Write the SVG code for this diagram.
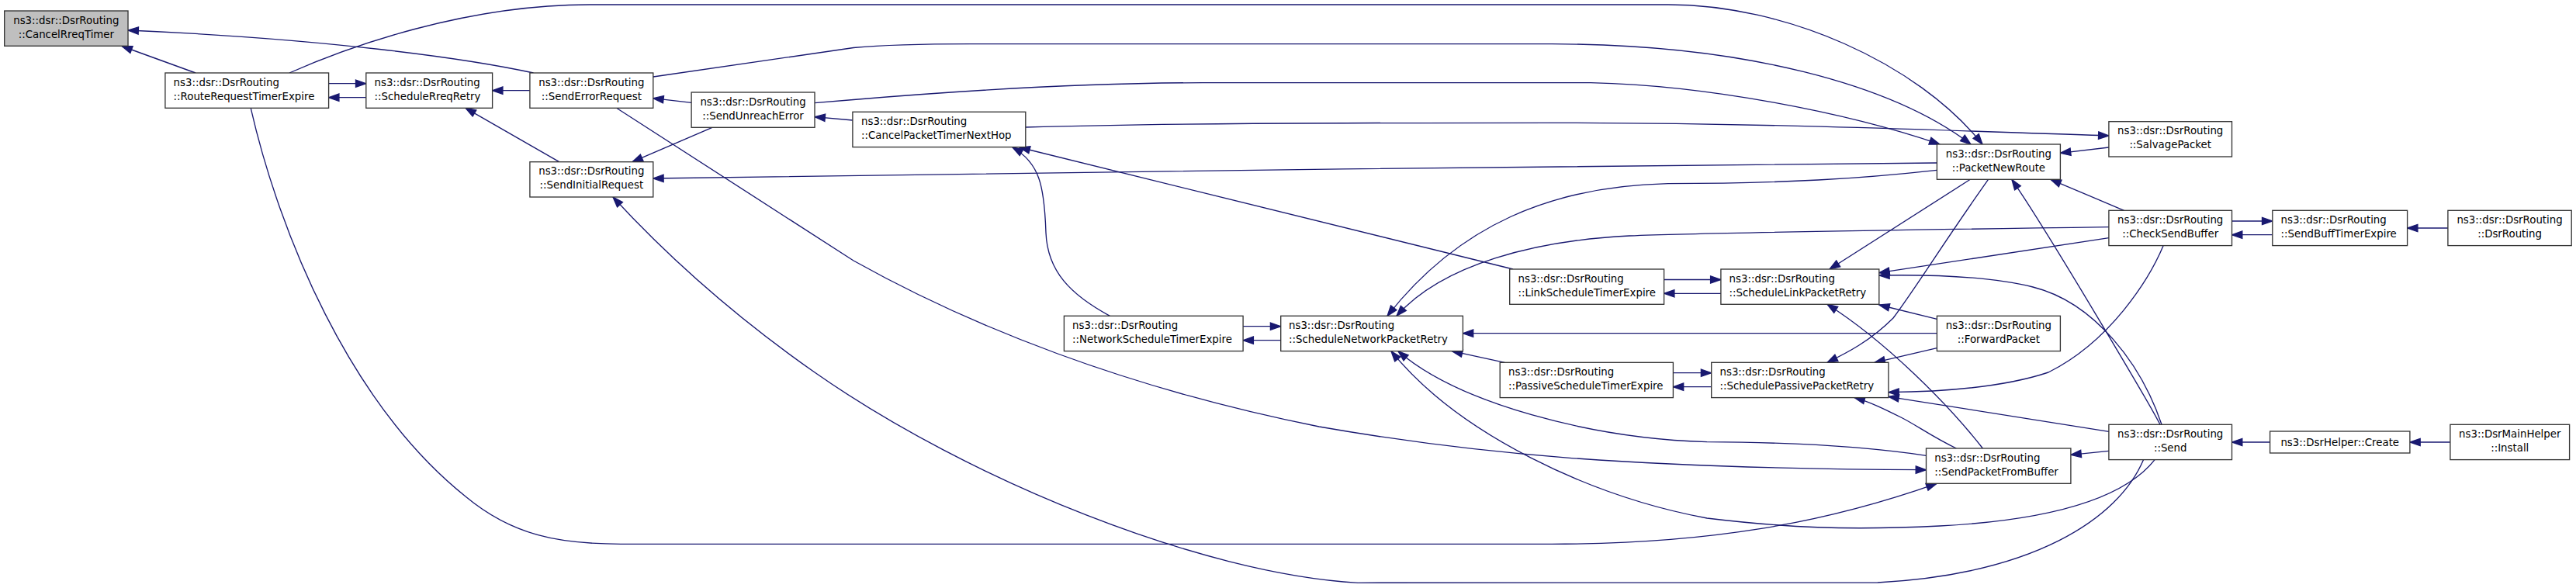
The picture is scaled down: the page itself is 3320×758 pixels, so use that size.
<svg xmlns="http://www.w3.org/2000/svg" width="3320" height="758" viewBox="0 0 3320 758">
<defs>
<style>
.n rect{fill:#ffffff;stroke:#333333;stroke-width:1.33}
.n.root rect{fill:#bfbfbf}
.n text{font-family:"DejaVu Sans","Liberation Sans",sans-serif;font-size:13.33px;fill:#000000}
.c{text-anchor:middle}
.l{text-anchor:start}
#edges path{fill:none;stroke:#191970;stroke-width:1.33;marker-end:url(#ah)}
</style>
<marker id="ah" markerUnits="userSpaceOnUse" markerWidth="16" markerHeight="12" refX="13.3" refY="0" viewBox="-1 -6 16 12" orient="auto" overflow="visible">
<path d="M0,-4.67 L13.3,0 L0,4.67 Z" fill="#191970" stroke="#191970" stroke-width="1.33"/>
</marker>
</defs>
<rect x="0" y="0" width="3320" height="758" fill="#ffffff"/>
<g id="edges">
<path d="M252,94 L157,59.5"/>
<path d="M687.5,94 C600,75 420,50 165,39"/>
<path d="M423.6,107.7 L471.8,107.7"/>
<path d="M471.8,125.7 L423.6,125.7"/>
<path d="M373,94 C450,60 600,6 760,6 L2150,6 C2300,6 2470,80 2555,186"/>
<path d="M842,99 L1100,61.5 C1150,57 1200,56.7 1250,56.7 L2000,56.7 C2250,57 2440,110 2540,186"/>
<path d="M1050,132.7 L1100,128.5 C1250,116 1400,106.7 1550,106.7 L2050,106.7 C2200,110 2380,145 2500,186"/>
<path d="M1321.8,164 C1500,159 1700,158.3 2000,158.3 C2300,159 2500,168 2717.9,175"/>
<path d="M2717.9,190 L2655.4,197.3"/>
<path d="M2496.4,210 C2000,212 1300,225 841.8,230"/>
<path d="M2496.4,219.3 C2400,230 2300,236.7 2150,236.7 C2000,240 1880,290 1788,407.3"/>
<path d="M2717.9,292.7 C2400,297 2200,300 2100,304 C1980,310 1860,340 1800,407.3"/>
<path d="M1950,347 L1314,190"/>
<path d="M1430.4,407.3 C1380,380 1350,350 1348,300 C1346,240 1340,210 1305,190"/>
<path d="M794.6,139.3 L1100,336 C1250,420 1450,500 1700,550 C1900,585 2100,604 2482.5,605.7"/>
<path d="M323.2,139.3 C360,300 450,520 600,640 C660,690 720,701.3 800,701.3 L2000,701.3 C2200,701.3 2350,675 2496,623.3"/>
<path d="M2762.7,592.3 C2730,670 2620,740 2420,751 L1750,751.3 C1550,740 1250,620 1050,480 C950,410 860,330 790,254"/>
<path d="M2777.3,592.3 C2740,640 2650,670 2500,678 C2380,684 2300,680 2200,668 C2050,640 1880,560 1793,452.7"/>
<path d="M2482.5,587.3 C2400,575 2300,570 2200,569.7 C2050,565 1880,520 1802,452.7"/>
<path d="M2496.4,429.7 L1885.4,429.7"/>
<path d="M1602.1,420.7 L1650.7,420.7"/>
<path d="M1650.7,438.7 L1602.1,438.7"/>
<path d="M1939.3,467.3 L1871.4,452.7"/>
<path d="M2156.4,480.7 L2205.7,480.7"/>
<path d="M2205.7,498.7 L2156.4,498.7"/>
<path d="M2144.6,360.5 L2217.9,360.5"/>
<path d="M2217.9,378.3 L2144.6,378.3"/>
<path d="M2539.3,231.3 L2358,347"/>
<path d="M2717.9,306.7 L2421.8,351.7"/>
<path d="M2786,547.3 C2760,470 2700,390 2620,370 C2560,355 2480,354 2421.8,355"/>
<path d="M2784,547.3 C2770,520 2640,300 2592.9,231.3"/>
<path d="M2737.5,271.3 L2642.9,231.3"/>
<path d="M2788.2,316.6 C2770,360 2720,440 2640,480 C2580,500 2500,505 2433.9,505.7"/>
<path d="M2717.9,556.3 L2433.9,511.3"/>
<path d="M2717.9,581.3 L2668.9,586.3"/>
<path d="M2496.4,411.3 L2421.8,393"/>
<path d="M2496.4,448.7 L2416,467.3"/>
<path d="M2555.4,578 C2510,520 2430,440 2355,392.3"/>
<path d="M2521.4,578 C2490,563 2470,548 2450,538 C2430,528 2410,518 2390,512.6"/>
<path d="M2562.5,231.3 C2500,320 2470,370 2440,410 C2410,440 2380,455 2355,467.3"/>
<path d="M2876.5,285 L2928.8,285"/>
<path d="M2928.8,302.7 L2876.5,302.7"/>
<path d="M3154.9,294 L3102.6,294"/>
<path d="M2925.6,570 L2876.5,570"/>
<path d="M3157.9,570 L3105.9,570"/>
<path d="M891.1,132.3 L841.8,126.7"/>
<path d="M682.9,116.7 L634.6,116.7"/>
<path d="M720.7,208.7 L600,139.3"/>
<path d="M917.9,164.3 L815,208.7"/>
<path d="M1098.9,155 L1050,150.7"/>
</g>
<g id="n1" class="n root"><rect x="5.7" y="14" width="159.3" height="45.3"/><text class="c" x="85.35" y="30.7">ns3::dsr::DsrRouting<tspan x="85.35" y="48.7">::CancelRreqTimer</tspan></text></g>
<g id="n2" class="n"><rect x="212.9" y="94" width="210.7" height="45.3"/><text class="l" x="223.6" y="110.7">ns3::dsr::DsrRouting<tspan x="223.6" y="128.7">::RouteRequestTimerExpire</tspan></text></g>
<g id="n3" class="n"><rect x="471.8" y="94" width="162.8" height="45.3"/><text class="l" x="482.5" y="110.7">ns3::dsr::DsrRouting<tspan x="482.5" y="128.7">::ScheduleRreqRetry</tspan></text></g>
<g id="n4" class="n"><rect x="682.9" y="94" width="158.9" height="45.3"/><text class="c" x="762.35" y="110.7">ns3::dsr::DsrRouting<tspan x="762.35" y="128.7">::SendErrorRequest</tspan></text></g>
<g id="n5" class="n"><rect x="891.1" y="119" width="158.9" height="45.3"/><text class="c" x="970.55" y="135.7">ns3::dsr::DsrRouting<tspan x="970.55" y="153.7">::SendUnreachError</tspan></text></g>
<g id="n6" class="n"><rect x="682.9" y="208.7" width="158.9" height="45.3"/><text class="c" x="762.35" y="225.4">ns3::dsr::DsrRouting<tspan x="762.35" y="243.4">::SendInitialRequest</tspan></text></g>
<g id="n7" class="n"><rect x="1098.9" y="144.3" width="222.9" height="45.3"/><text class="l" x="1110" y="161">ns3::dsr::DsrRouting<tspan x="1110" y="179">::CancelPacketTimerNextHop</tspan></text></g>
<g id="n8" class="n"><rect x="1371.4" y="407.3" width="230.7" height="45.3"/><text class="l" x="1382" y="424">ns3::dsr::DsrRouting<tspan x="1382" y="442">::NetworkScheduleTimerExpire</tspan></text></g>
<g id="n9" class="n"><rect x="1650.7" y="407.3" width="234.7" height="45.3"/><text class="l" x="1661" y="424">ns3::dsr::DsrRouting<tspan x="1661" y="442">::ScheduleNetworkPacketRetry</tspan></text></g>
<g id="n10" class="n"><rect x="1945.7" y="347" width="198.9" height="45.3"/><text class="l" x="1956.5" y="363.7">ns3::dsr::DsrRouting<tspan x="1956.5" y="381.7">::LinkScheduleTimerExpire</tspan></text></g>
<g id="n11" class="n"><rect x="1933.2" y="467.3" width="223.2" height="45.3"/><text class="l" x="1944" y="484">ns3::dsr::DsrRouting<tspan x="1944" y="502">::PassiveScheduleTimerExpire</tspan></text></g>
<g id="n12" class="n"><rect x="2496.4" y="186" width="159" height="45.3"/><text class="c" x="2575.9" y="202.7">ns3::dsr::DsrRouting<tspan x="2575.9" y="220.7">::PacketNewRoute</tspan></text></g>
<g id="n13" class="n"><rect x="2217.9" y="347" width="203.9" height="45.3"/><text class="l" x="2228.6" y="363.7">ns3::dsr::DsrRouting<tspan x="2228.6" y="381.7">::ScheduleLinkPacketRetry</tspan></text></g>
<g id="n14" class="n"><rect x="2496.4" y="407.3" width="159" height="45.3"/><text class="c" x="2575.9" y="424">ns3::dsr::DsrRouting<tspan x="2575.9" y="442">::ForwardPacket</tspan></text></g>
<g id="n15" class="n"><rect x="2205.7" y="467.3" width="228.2" height="45.3"/><text class="l" x="2216.5" y="484">ns3::dsr::DsrRouting<tspan x="2216.5" y="502">::SchedulePassivePacketRetry</tspan></text></g>
<g id="n16" class="n"><rect x="2482.5" y="578" width="186.4" height="45.3"/><text class="l" x="2493.2" y="594.7">ns3::dsr::DsrRouting<tspan x="2493.2" y="612.7">::SendPacketFromBuffer</tspan></text></g>
<g id="n17" class="n"><rect x="2717.9" y="156.7" width="158.6" height="45.3"/><text class="c" x="2797.2" y="173.4">ns3::dsr::DsrRouting<tspan x="2797.2" y="191.4">::SalvagePacket</tspan></text></g>
<g id="n18" class="n"><rect x="2717.9" y="271.3" width="158.6" height="45.3"/><text class="c" x="2797.2" y="288">ns3::dsr::DsrRouting<tspan x="2797.2" y="306">::CheckSendBuffer</tspan></text></g>
<g id="n19" class="n"><rect x="2717.9" y="547.3" width="158.6" height="45.3"/><text class="c" x="2797.2" y="564">ns3::dsr::DsrRouting<tspan x="2797.2" y="582">::Send</tspan></text></g>
<g id="n20" class="n"><rect x="2928.8" y="271.3" width="173.8" height="45.3"/><text class="l" x="2939.5" y="288">ns3::dsr::DsrRouting<tspan x="2939.5" y="306">::SendBuffTimerExpire</tspan></text></g>
<g id="n21" class="n"><rect x="3154.9" y="271.3" width="159.3" height="45.3"/><text class="c" x="3234.55" y="288">ns3::dsr::DsrRouting<tspan x="3234.55" y="306">::DsrRouting</tspan></text></g>
<g id="n22" class="n"><rect x="2925.6" y="556" width="180.3" height="28"/><text class="c" x="3015.75" y="574.5">ns3::DsrHelper::Create</text></g>
<g id="n23" class="n"><rect x="3157.9" y="547.3" width="153.7" height="45.3"/><text class="c" x="3234.75" y="564">ns3::DsrMainHelper<tspan x="3234.75" y="582">::Install</tspan></text></g>
</svg>
